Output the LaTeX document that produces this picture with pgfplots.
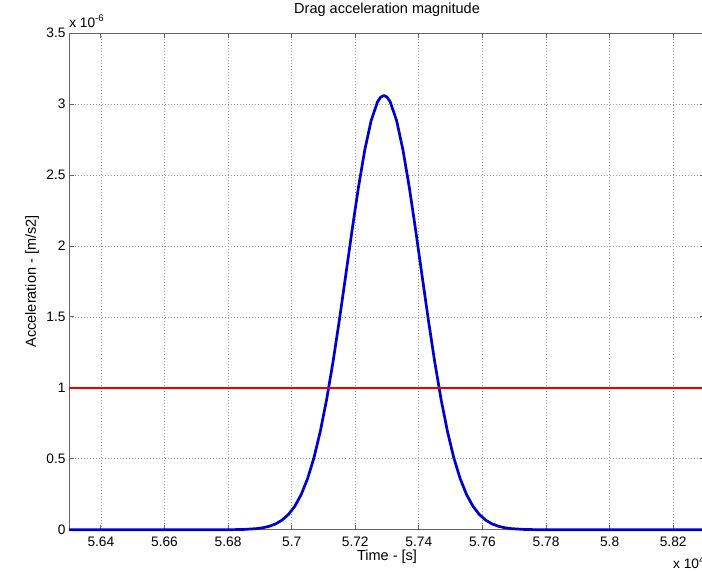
\documentclass[border=0pt]{standalone}
\usepackage{fontspec}
\setmainfont{Liberation Sans}
\usepackage{pgfplots}
\pgfplotsset{compat=1.18}
\definecolor{mblue}{RGB}{0,0,205}
\definecolor{mred}{RGB}{235,0,0}
\begin{document}
\begin{tikzpicture}
\begin{axis}[name=ax, scale only axis, width=635pt, height=496pt,
 xmin=56300, xmax=58300, ymin=0, ymax=3.5,
 xtick={56400,56600,56800,57000,57200,57400,57600,57800,58000,58200},
 xticklabels={5.64,5.66,5.68,5.7,5.72,5.74,5.76,5.78,5.8,5.82},
 ytick={0,0.5,1,1.5,2,2.5,3,3.5},
 yticklabels={0,0.5,1,1.5,2,2.5,3,3.5},
 tick align=inside, tick pos=both, major tick length=5pt,
 grid=major, grid style={black!40, line width=0.7pt, dash pattern=on 1pt off 2pt},
 axis line style={black!60, line width=0.8pt},
 every tick/.style={black!60, line width=0.8pt},
 ticklabel style={font=\fontsize{13.7}{16}\selectfont},
 xticklabel style={yshift=-4pt},
 label style={font=\fontsize{14.5}{17}\selectfont},
 title style={font=\fontsize{14.5}{17}\selectfont, at={(axis description cs:0.5,1.0343)}, anchor=center},
 xlabel style={at={(axis description cs:0.5,-0.0544)}, anchor=center},
 ylabel style={at={(axis description cs:-0.0583,0.5)}, anchor=center},
 title={Drag acceleration magnitude},
 xlabel={Time - [s]}, ylabel={Acceleration - [m/s2]},
 clip=false, scaled ticks=false,
]
\addplot[mblue, line width=2.7pt, line join=round] coordinates {
(56300,0) (56800,0) (56850,0.0023) (56890,0.0080) (56910,0.0143) (56930,0.0248)
(56950,0.0417) (56970,0.0681) (56990,0.1080) (57010,0.1662) (57030,0.2482)
(57050,0.3599) (57070,0.5066) (57090,0.6922) (57110,0.9181) (57130,1.1819)
(57150,1.4772) (57170,1.7920) (57190,2.1103) (57210,2.4123) (57230,2.6769)
(57250,2.8834) (57270,3.0149) (57280,3.0486) (57290,3.06) (57300,3.0486) (57310,3.0149)
(57330,2.8834) (57350,2.6769) (57370,2.4123) (57390,2.1103) (57410,1.7920)
(57430,1.4772) (57450,1.1819) (57470,0.9181) (57490,0.6922) (57510,0.5066)
(57530,0.3599) (57550,0.2482) (57570,0.1662) (57590,0.1080) (57610,0.0681)
(57630,0.0417) (57650,0.0248) (57670,0.0143) (57690,0.0080) (57730,0.0023)
(57780,0) (58300,0)
};
\addplot[mred, line width=2.5pt] coordinates {(56300,1) (58300,1)};
\end{axis}
\node[anchor=base west, font=\fontsize{13.7}{16}\selectfont, inner sep=0pt] at ([yshift=6pt]ax.north west) {x 10\textsuperscript{-6}};
\node[anchor=base west, font=\fontsize{13.7}{16}\selectfont, inner sep=0pt] at ([xshift=-32pt,yshift=-39pt]ax.south east) {x 10\textsuperscript{4}};
\pgfresetboundingbox
\path[use as bounding box] ([xshift=-69pt,yshift=-42pt]ax.south west) rectangle ([xshift=-3pt,yshift=33pt]ax.north east);
\end{tikzpicture}
\end{document}
